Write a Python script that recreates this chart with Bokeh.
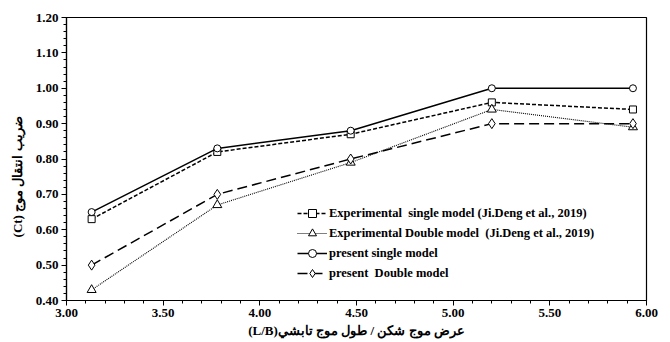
import numpy as np
from bokeh.plotting import figure
from bokeh.models import Range1d, FixedTicker, PrintfTickFormatter, Legend, LegendItem
from bokeh.embed import file_html
from bokeh.resources import INLINE

# ---- data ----
x_vals = [3.13, 3.78, 4.47, 5.20, 5.93]
exp_single = [0.63, 0.82, 0.87, 0.96, 0.94]
exp_double = [0.43, 0.67, 0.79, 0.94, 0.89]
pres_single = [0.65, 0.83, 0.88, 1.00, 1.00]
pres_double = [0.50, 0.70, 0.80, 0.90, 0.90]

labels = [
    "Experimental  single model (Ji.Deng et al., 2019)",
    "Experimental Double model  (Ji.Deng et al., 2019)",
    "present single model",
    "present  Double model",
]
x_title = "(L/B)عرض موج شکن / طول موج تابشي"
y_title = "(Ct) ضريب انتقال موج" + "\u00a0" * 11

FONT = "Liberation Serif"

p = figure(width=670, height=342, output_backend="svg", toolbar_location=None,
           x_range=Range1d(3.0, 6.0), y_range=Range1d(0.40, 1.20),
           min_border_left=66, min_border_right=24, min_border_top=17, min_border_bottom=42)
p.background_fill_color = "white"
p.border_fill_color = "white"
p.outline_line_color = "black"
p.outline_line_width = 1.2
p.xgrid.visible = False
p.ygrid.visible = False

p.xaxis.ticker = FixedTicker(ticks=list(np.round(np.arange(3.0, 6.01, 0.5), 2)),
                             minor_ticks=list(np.round(np.arange(3.0, 6.01, 0.1), 2)))
p.yaxis.ticker = FixedTicker(ticks=list(np.round(np.arange(0.4, 1.201, 0.1), 2)),
                             minor_ticks=list(np.round(np.arange(0.4, 1.201, 0.02), 2)))
for ax in (p.xaxis, p.yaxis):
    ax.formatter = PrintfTickFormatter(format="%.2f")
    ax.major_label_text_font = FONT
    ax.major_label_text_font_style = "bold"
    ax.major_label_text_font_size = "13px"
    ax.major_label_text_color = "black"
    ax.axis_line_color = "black"
    ax.axis_line_width = 1.2
    ax.major_tick_in = 0
    ax.major_tick_out = 5
    ax.minor_tick_in = 0
    ax.minor_tick_out = 3
    ax.major_tick_line_color = "black"
    ax.minor_tick_line_color = "black"
    ax.axis_label_text_font = FONT
    ax.axis_label_text_font_style = "bold"
    ax.axis_label_text_font_size = "13px"
    ax.axis_label_text_color = "black"

p.xaxis.axis_label = x_title
p.yaxis.axis_label = y_title
p.xaxis.major_label_standoff = 3
p.yaxis.major_label_standoff = 3
p.xaxis.axis_label_standoff = 3
p.yaxis.axis_label_standoff = 8

# series
l1 = p.line(x_vals, exp_single, line_color="black", line_width=1.5, line_dash="4 2")
m1 = p.scatter(x_vals, exp_single, marker="square", size=7, fill_color="white", line_color="black", line_width=1)
l2 = p.line(x_vals, exp_double, line_color="black", line_width=1.1, line_dash="1 1")
m2 = p.scatter(x_vals, exp_double, marker="triangle", size=9, fill_color="white", line_color="black", line_width=1)
l3 = p.line(x_vals, pres_single, line_color="black", line_width=1.5)
m3 = p.scatter(x_vals, pres_single, marker="circle", size=7, fill_color="white", line_color="black", line_width=1)
l4 = p.line(x_vals, pres_double, line_color="black", line_width=1.5, line_dash="10 5")
m4 = p.scatter(x_vals, pres_double, marker="diamond", size=10, fill_color="white", line_color="black", line_width=1)

legend = Legend(items=[
    LegendItem(label=labels[0], renderers=[l1, m1]),
    LegendItem(label=labels[1], renderers=[l2, m2]),
    LegendItem(label=labels[2], renderers=[l3, m3]),
    LegendItem(label=labels[3], renderers=[l4, m4]),
], location=(231, 17))
legend.glyph_width = 30
legend.glyph_height = 20
legend.label_height = 20
legend.spacing = 0
legend.padding = 0
legend.margin = 0
legend.label_standoff = 2
legend.background_fill_alpha = 0
legend.border_line_alpha = 0
legend.label_text_font = FONT
legend.label_text_font_style = "bold"
legend.label_text_font_size = "12.5px"
legend.label_text_color = "black"
p.add_layout(legend)

open("out.html", "w").write(file_html(p, INLINE))
